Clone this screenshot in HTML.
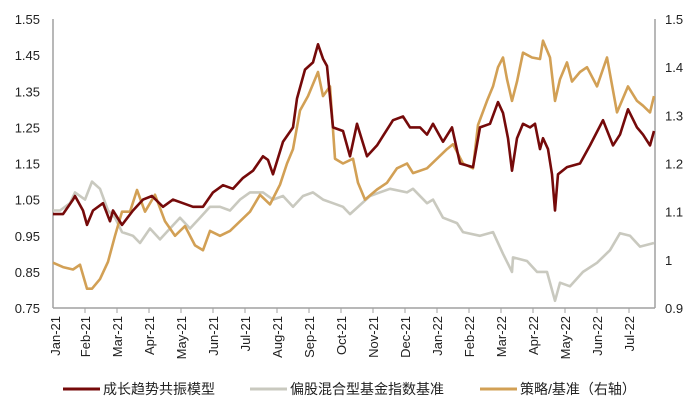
<!DOCTYPE html>
<html><head><meta charset="utf-8"><style>
body{margin:0;background:#fff;width:700px;height:415px;overflow:hidden;font-family:"Liberation Sans","Noto Sans CJK SC",sans-serif}
</style></head><body>
<svg id="chart" width="700" height="415" xmlns="http://www.w3.org/2000/svg" font-family="Liberation Sans, Noto Sans CJK SC, sans-serif"></svg>
<script>
const monthLabels=["Jan-21","Feb-21","Mar-21","Apr-21","May-21","Jun-21","Jul-21","Aug-21","Sep-21","Oct-21","Nov-21","Dec-21","Jan-22","Feb-22","Mar-22","Apr-22","May-22","Jun-22","Jul-22"];
const leftTicks=[0.75,0.85,0.95,1.05,1.15,1.25,1.35,1.45,1.55];
const rightTicks=[0.9,1.0,1.1,1.2,1.3,1.4,1.5];
const rightTickLabels=["0.9","1","1.1","1.2","1.3","1.4","1.5"];
const redDays=[0,10,20,22,30,34,40,50,57,60,69,80,90,99,110,120,130,140,150,160,170,180,190,200,210,215,220,230,240,244,252,260,265,270,274,280,290,297,304,314,324,340,350,357,367,374,380,390,399,407,420,427,437,445,450,455,459,464,470,477,482,487,490,495,499,502,505,514,527,537,550,560,567,575,584,590,597,601];
const redVals=[1.01,1.01,1.05,1.06,1.02,0.98,1.02,1.04,0.99,1.02,0.98,1.02,1.05,1.06,1.03,1.05,1.04,1.03,1.03,1.07,1.09,1.08,1.11,1.13,1.17,1.16,1.12,1.21,1.25,1.33,1.41,1.43,1.48,1.44,1.42,1.25,1.24,1.17,1.26,1.17,1.20,1.27,1.28,1.25,1.25,1.23,1.26,1.21,1.25,1.15,1.14,1.25,1.26,1.32,1.29,1.22,1.13,1.22,1.26,1.25,1.26,1.19,1.22,1.19,1.12,1.02,1.12,1.14,1.15,1.20,1.27,1.20,1.23,1.30,1.25,1.23,1.20,1.24];
const grayDays=[0,7,17,22,32,39,47,55,62,69,80,87,97,107,117,127,137,147,157,167,177,187,197,210,220,230,240,250,260,270,280,290,297,317,337,354,360,374,380,390,404,410,427,440,450,459,460,474,484,494,502,507,517,530,544,557,567,577,587,601];
const grayVals=[1.02,1.02,1.04,1.07,1.05,1.10,1.08,1.02,1.00,0.96,0.95,0.93,0.97,0.94,0.97,1.00,0.97,1.00,1.03,1.03,1.02,1.05,1.07,1.07,1.05,1.06,1.03,1.06,1.07,1.05,1.04,1.03,1.01,1.06,1.08,1.07,1.08,1.04,1.05,1.00,0.985,0.96,0.95,0.96,0.90,0.85,0.89,0.88,0.85,0.85,0.77,0.82,0.81,0.85,0.875,0.91,0.957,0.95,0.92,0.93];
const goldDays=[0,10,20,27,34,39,47,55,62,69,77,84,92,102,112,122,132,142,150,157,167,177,187,197,207,217,227,234,240,247,255,265,270,277,282,290,300,305,312,324,334,344,354,360,374,384,394,400,410,420,425,434,440,445,450,454,459,464,470,479,487,490,497,502,507,514,519,527,534,544,554,564,575,584,590,597,601];
const goldVals=[0.994,0.985,0.98,0.99,0.94,0.94,0.96,0.996,1.05,1.10,1.10,1.145,1.10,1.135,1.08,1.05,1.07,1.03,1.02,1.06,1.05,1.06,1.08,1.10,1.135,1.115,1.156,1.20,1.23,1.31,1.34,1.39,1.34,1.36,1.21,1.20,1.21,1.16,1.125,1.146,1.16,1.19,1.20,1.18,1.19,1.21,1.23,1.24,1.20,1.19,1.28,1.33,1.36,1.40,1.42,1.375,1.33,1.37,1.43,1.42,1.417,1.455,1.42,1.33,1.375,1.41,1.37,1.39,1.40,1.36,1.42,1.306,1.36,1.33,1.32,1.306,1.34];

const L=53,R=655,T=19,B=308;
const xS=d=>L+d*(R-L)/602;
const yL=v=>B-(v-0.75)/(1.55-0.75)*(B-T);
const yR=v=>B-(v-0.9)/(1.5-0.9)*(B-T);
const monthX=m=>L+m*32;
const svg=document.getElementById('chart');
const NS='http://www.w3.org/2000/svg';
function mk(tag,attrs,parent){const e=document.createElementNS(NS,tag);for(const k in attrs)e.setAttribute(k,attrs[k]);(parent||svg).appendChild(e);return e;}

let e=mk('line',{x1:L,y1:T,x2:L,y2:B,stroke:'#a0a0a0','stroke-width':1.5});


e=mk('line',{x1:R,y1:T,x2:R,y2:B,stroke:'#a0a0a0','stroke-width':1.5});


e=mk('line',{x1:L,y1:B,x2:R,y2:B,stroke:'#a0a0a0','stroke-width':1.5});



leftTicks.forEach(v=>{
  const t=mk('text',{x:40,y:yL(v)+5,'text-anchor':'end','font-size':13,fill:'#222'});
  t.textContent=v.toFixed(2);
  
  
});
rightTicks.forEach((v,i)=>{
  const t=mk('text',{x:665,y:yR(v)+5,'text-anchor':'start','font-size':13,fill:'#222'});
  t.textContent=rightTickLabels[i];
  
  
});
monthLabels.forEach((m,i)=>{
  const x=monthX(i);
  if(i>0){const tk=mk('line',{x1:x,y1:B,x2:x,y2:B+5,stroke:'#a0a0a0','stroke-width':1});
  
  }
  const t=mk('text',{x:0,y:0,'text-anchor':'end','font-size':13,fill:'#222',transform:`translate(${x+(i==0?7:5)},316) rotate(-90)`});
  t.textContent=m;
  
  
});
function series(days,vals,ys,color,name){
  const d=days.map((dd,i)=>(i?'L':'M')+xS(dd).toFixed(1)+','+ys(vals[i]).toFixed(1)).join('');
  const p=mk('path',{d:d,fill:'none',stroke:color,'stroke-width':2.6,'stroke-linejoin':'round'});
  
  
}
series(grayDays,grayVals,yL,'#c9c9bf','benchmark-line');
series(goldDays,goldVals,yR,'#d2a055','ratio-line');
series(redDays,redVals,yL,'#750a0a','model-line');

const legend=[["成长趋势共振模型",'#750a0a',63],["偏股混合型基金指数基准",'#c9c9bf',250],["策略/基准（右轴）",'#d2a055',480]];
legend.forEach(([txt,c,x])=>{
  const g=mk('g',{});
  
  
  mk('line',{x1:x,y1:389,x2:x+37,y2:389,stroke:c,'stroke-width':3},g);
  const t=mk('text',{x:x+40,y:394,'font-size':14,fill:'#222'},g);
  t.textContent=txt;
});
</script>
</body></html>
